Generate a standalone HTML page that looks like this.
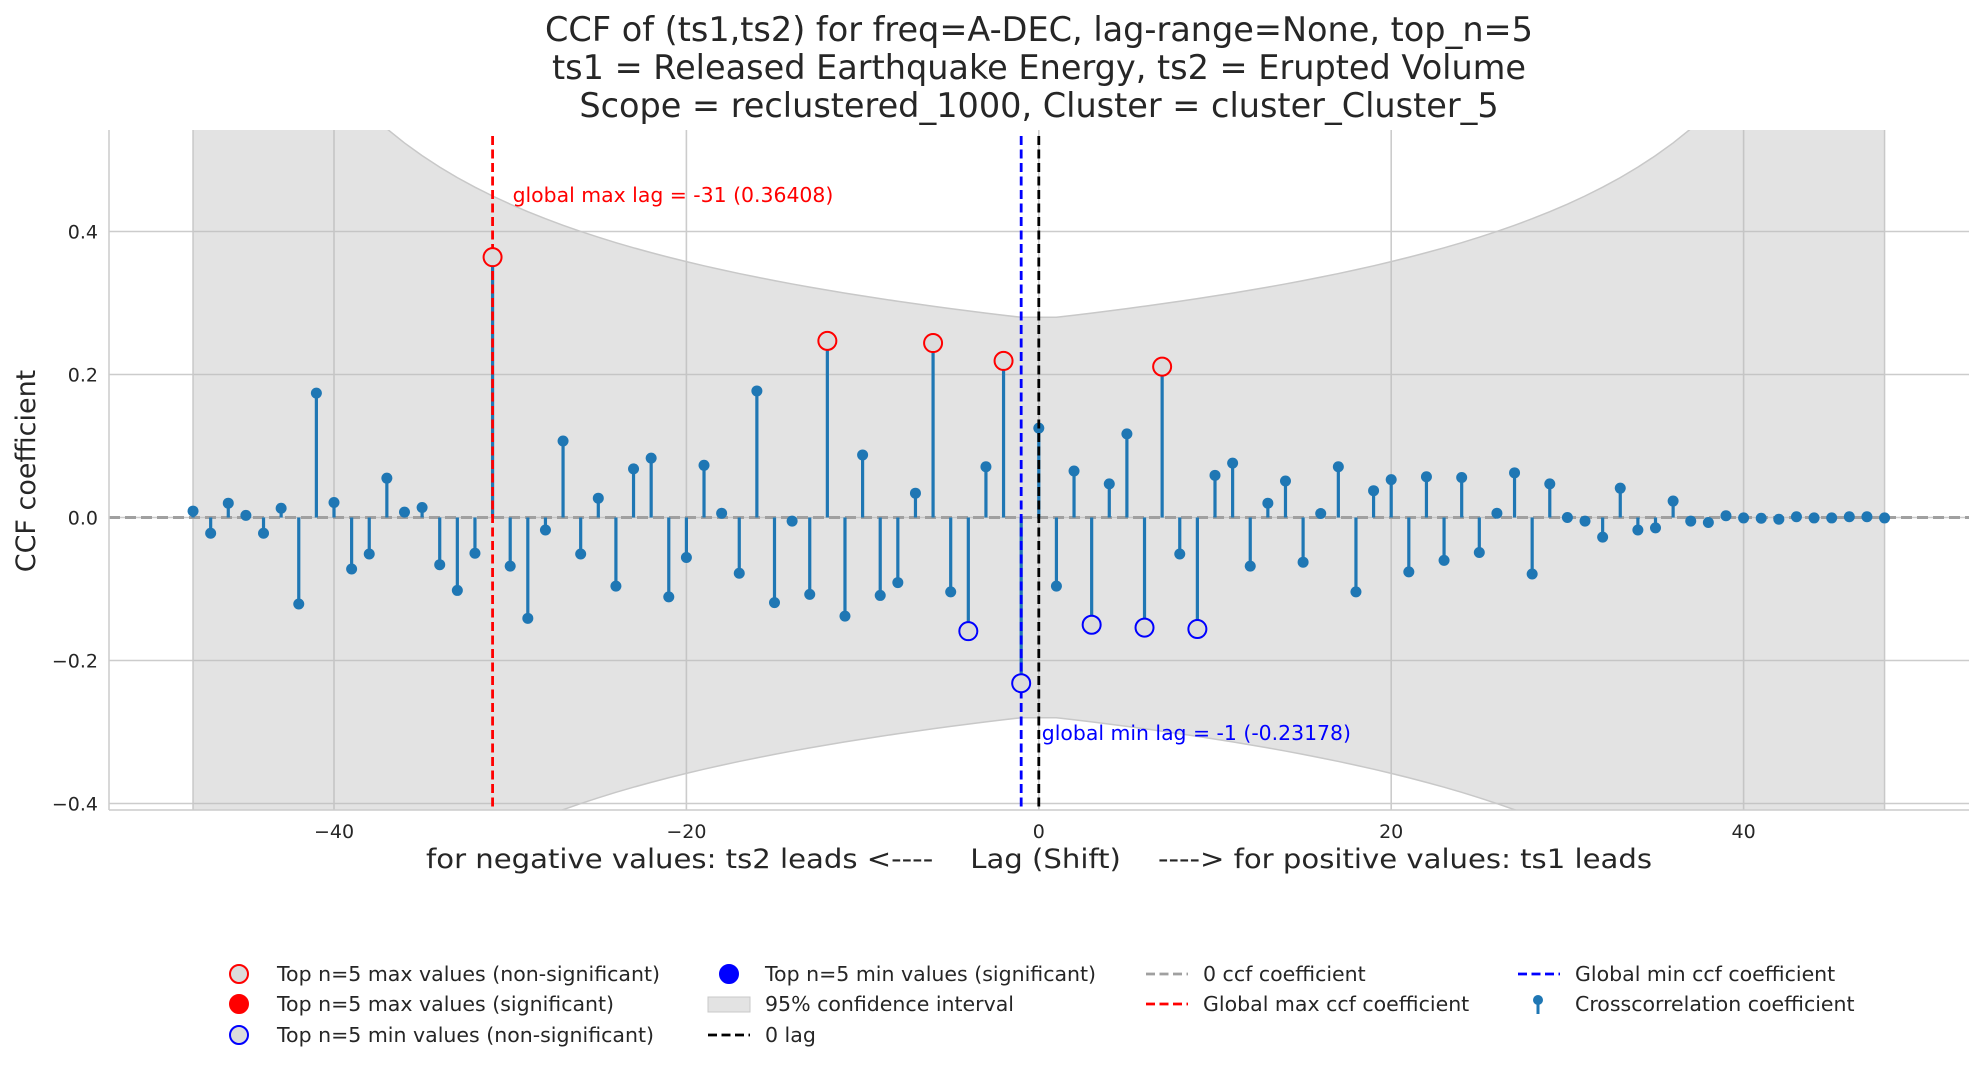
<!DOCTYPE html>
<html><head><meta charset="utf-8"><style>
html,body{margin:0;background:#fff;overflow:hidden;width:1984px;height:1069px;}
svg{display:block;font-family:"DejaVu Sans","Liberation Sans",sans-serif;}
</style></head><body>
<svg id="chart" width="1984" height="1069" viewBox="0 0 1984 1069" xmlns="http://www.w3.org/2000/svg">
<g font-size="33.5" fill="#262626" text-anchor="middle">
<text x="1039" y="41">CCF of (ts1,ts2) for freq=A-DEC, lag-range=None, top_n=5</text>
<text x="1039" y="79">ts1 = Released Earthquake Energy, ts2 = Erupted Volume</text>
<text x="1039" y="117">Scope = reclustered_1000, Cluster = cluster_Cluster_5</text>
</g>
<g id="plot"></g>
<text x="0" y="0" transform="translate(35,471) rotate(-90)" font-size="27" fill="#262626" text-anchor="middle">CCF coefficient</text>
<text x="1039" y="868" font-size="27" fill="#262626" text-anchor="middle" xml:space="preserve" textLength="1226" lengthAdjust="spacingAndGlyphs">for negative values: ts2 leads &lt;----    Lag (Shift)    ----&gt; for positive values: ts1 leads</text>
<g id="legend" font-size="20.5" fill="#262626"></g>
</svg>
<script>
const lags = [-48,-47,-46,-45,-44,-43,-42,-41,-40,-39,-38,-37,-36,-35,-34,-33,-32,-31,-30,-29,-28,-27,-26,-25,-24,-23,-22,-21,-20,-19,-18,-17,-16,-15,-14,-13,-12,-11,-10,-9,-8,-7,-6,-5,-4,-3,-2,-1,0,1,2,3,4,5,6,7,8,9,10,11,12,13,14,15,16,17,18,19,20,21,22,23,24,25,26,27,28,29,30,31,32,33,34,35,36,37,38,39,40,41,42,43,44,45,46,47,48];
const ccfValues = [0.009,-0.022,0.020,0.003,-0.022,0.013,-0.121,0.174,0.021,-0.072,-0.051,0.055,0.0075,0.014,-0.066,-0.102,-0.050,0.36408,-0.068,-0.141,-0.0175,0.107,-0.051,0.027,-0.096,0.068,0.083,-0.111,-0.056,0.073,0.006,-0.078,0.177,-0.119,-0.005,-0.1075,0.247,-0.138,0.0875,-0.109,-0.091,0.034,0.244,-0.104,-0.159,0.071,0.219,-0.23178,0.125,-0.096,0.065,-0.150,0.047,0.117,-0.154,0.211,-0.051,-0.156,0.059,0.076,-0.068,0.020,0.051,-0.0625,0.0056,0.071,-0.104,0.0375,0.053,-0.076,0.057,-0.060,0.056,-0.049,0.006,0.0625,-0.079,0.047,0.0,-0.005,-0.0275,0.041,-0.0175,-0.0145,0.023,-0.005,-0.007,0.0025,-0.0006,-0.001,-0.0025,0.001,-0.0006,-0.0006,0.001,0.001,-0.0006];
const topMaxLags = [-31,-12,-6,-2,7];
const topMinLags = [-4,-1,3,6,9];
const globalMaxLag = -31, globalMinLag = -1;
const nObs = 49;
const xTicks = [-40,-20,0,20,40];
const yTicks = [-0.4,-0.2,0,0.2,0.4];
const yTickLabels = ["\u22120.4","\u22120.2","0.0","0.2","0.4"];
const xTickLabels = ["\u221240","\u221220","0","20","40"];

const L=109,R=1969,T=130,B=810;
const X=v=>1038.8+v*17.62;
const Y=v=>517.5-v*715;
const NS="http://www.w3.org/2000/svg";
const plot=document.getElementById('plot');
function mk(tag,attrs,parent){const e=document.createElementNS(NS,tag);for(const k in attrs)e.setAttribute(k,attrs[k]);(parent||plot).appendChild(e);return e;}
const valAt=l=>ccfValues[lags.indexOf(l)];

const defs=mk('defs',{});const cp=mk('clipPath',{id:'cp'},defs);mk('rect',{x:L,y:T,width:R-L,height:B-T},cp);

xTicks.forEach((t,i)=>{
 const g=mk('line',{x1:X(t),x2:X(t),y1:T,y2:B,stroke:'#cccccc','stroke-width':1.6});
 
 const tl=mk('text',{x:X(t),y:838,'font-size':19,fill:'#262626','text-anchor':'middle'});tl.textContent=xTickLabels[i];
 
});
yTicks.forEach((t,i)=>{
 const g=mk('line',{x1:L,x2:R,y1:Y(t),y2:Y(t),stroke:'#cccccc','stroke-width':1.6});
 
 const tl=mk('text',{x:98,y:Y(t)+7,'font-size':19,fill:'#262626','text-anchor':'end'});tl.textContent=yTickLabels[i];
 
});

const cg=mk('g',{'clip-path':'url(#cp)'});
let up=[],dn=[];
for(let k=lags[0];k<=lags[lags.length-1];k++){const c=1.96/Math.sqrt(nObs-Math.max(Math.abs(k),1)+1);up.push(X(k)+','+Y(c));dn.unshift(X(k)+','+Y(-c));}
const band=mk('polygon',{points:up.concat(dn).join(' '),fill:'#bdbdbd','fill-opacity':0.42,stroke:'#c8c8c8','stroke-width':1.5},cg);


const zl=mk('line',{x1:L,x2:R,y1:Y(0),y2:Y(0),stroke:'#a0a0a0','stroke-width':3,'stroke-dasharray':'11,5'});


lags.forEach((l,i)=>{
 const s=mk('line',{x1:X(l),x2:X(l),y1:Y(0),y2:Y(ccfValues[i]),stroke:'#1f77b4','stroke-width':3.2});
 
 const d=mk('circle',{cx:X(l),cy:Y(ccfValues[i]),r:5.5,fill:'#1f77b4'});
 
});

const vl=(lag,col,name)=>{const e=mk('line',{x1:X(lag),x2:X(lag),y1:T+6,y2:B,stroke:col,'stroke-width':2.8,'stroke-dasharray':'9,4.5'});
 };
vl(globalMaxLag,'#ff0000','global-max-line');
vl(globalMinLag,'#0000ff','global-min-line');
vl(0,'#000000','zero-lag-line');

topMaxLags.forEach(l=>{const c=mk('circle',{cx:X(l),cy:Y(valAt(l)),r:9,fill:'#dcdcdc',stroke:'#ff0000','stroke-width':2});
 });
topMinLags.forEach(l=>{const c=mk('circle',{cx:X(l),cy:Y(valAt(l)),r:9,fill:'#dcdcdc',stroke:'#0000ff','stroke-width':2});
 });

const a1=mk('text',{x:X(globalMaxLag)+20,y:202,'font-size':20.4,fill:'#ff0000'});a1.textContent='global max lag = '+globalMaxLag+' ('+valAt(globalMaxLag).toFixed(5)+')';

const a2=mk('text',{x:X(0)+3,y:740,'font-size':20.4,fill:'#0000ff'});a2.textContent='global min lag = '+globalMinLag+' ('+valAt(globalMinLag).toFixed(5)+')';


const sp1=mk('line',{x1:L,x2:L,y1:T,y2:B,stroke:'#cccccc','stroke-width':1.5});
const sp2=mk('line',{x1:L,x2:R,y1:B,y2:B,stroke:'#cccccc','stroke-width':1.5});

const lg=document.getElementById('legend');
const rows=[974,1004,1035];
function ltext(x,y,t){const e=mk('text',{x:x,y:y+7},lg);e.textContent=t;}
function lcirc(x,y,fill,stroke){const e=mk('circle',{cx:x,cy:y,r:9,fill:fill,stroke:stroke,'stroke-width':2},lg);}
function lline(x,y,col){const e=mk('line',{x1:x,x2:x+42,y1:y,y2:y,stroke:col,'stroke-width':2.8,'stroke-dasharray':'9,4.5'},lg);}
lcirc(239,rows[0],'#dcdcdc','#ff0000');ltext(277,rows[0],'Top n=5 max values (non-significant)');
lcirc(239,rows[1],'#ff0000','#ff0000');ltext(277,rows[1],'Top n=5 max values (significant)');
lcirc(239,rows[2],'#dcdcdc','#0000ff');ltext(277,rows[2],'Top n=5 min values (non-significant)');
lcirc(729,rows[0],'#0000ff','#0000ff');ltext(765,rows[0],'Top n=5 min values (significant)');
{const e=mk('rect',{x:708,y:rows[1]-7,width:42,height:15,fill:'#bdbdbd','fill-opacity':0.42,stroke:'#c8c8c8'},lg);}
ltext(765,rows[1],'95% confidence interval');
lline(708,rows[2],'#000000');ltext(765,rows[2],'0 lag');
lline(1146,rows[0],'#a0a0a0');ltext(1203,rows[0],'0 ccf coefficient');
lline(1146,rows[1],'#ff0000');ltext(1203,rows[1],'Global max ccf coefficient');
lline(1518,rows[0],'#0000ff');ltext(1575,rows[0],'Global min ccf coefficient');
{const e=mk('line',{x1:1538,x2:1538,y1:rows[1]-4,y2:rows[1]+10,stroke:'#1f77b4','stroke-width':3},lg);
 const d=mk('circle',{cx:1538,cy:rows[1]-4,r:5,fill:'#1f77b4'},lg);}
ltext(1575,rows[1],'Crosscorrelation coefficient');
</script>
</body></html>
